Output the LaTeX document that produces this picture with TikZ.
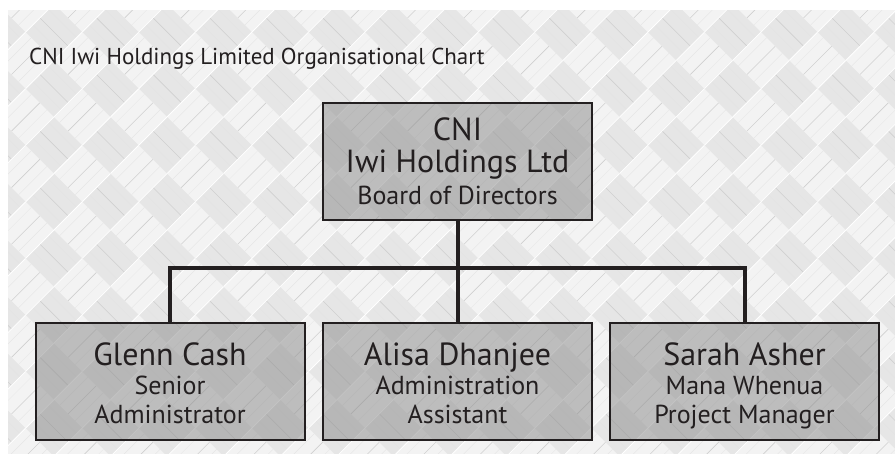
\documentclass[tikz,border=0pt]{standalone}
\usepackage{fontspec}
\setmainfont{PT Sans}
\definecolor{ink}{HTML}{231F20}
\definecolor{weaveA}{HTML}{F3F3F3}
\definecolor{weaveB}{HTML}{E6E6E6}
\definecolor{fiber}{HTML}{D0D0D0}
\tikzset{
  orgbox/.style={draw=ink, line width=2pt, fill=black!45, fill opacity=0.52,
    text opacity=1, minimum width=269pt, minimum height=117pt, inner sep=0pt},
  bigtxt/.style={anchor=base, text=ink, font=\fontsize{32}{35}\selectfont, inner sep=0pt,
    text height=22pt, text depth=5pt},
  smalltxt/.style={anchor=base, text=ink, font=\fontsize{26}{29}\selectfont, inner sep=0pt,
    text height=18pt, text depth=4pt},
  conn/.style={draw=ink, line width=4pt},
}
\begin{document}
\begin{tikzpicture}[x=1pt,y=-1pt]
\useasboundingbox (0,0) rectangle (895,454);
\fill[white] (0,0) rectangle (895,454);
% woven background
\begin{scope}
  \clip (8,11) rectangle (895,454);
  \fill[weaveA] (8,11) rectangle (895,454);
  \begin{scope}[shift={(450,230)}, rotate=45]
    \foreach \i in {-15,...,14}{
      \foreach \j in {-15,...,14}{
        \pgfmathtruncatemacro{\pq}{mod(\i+\j+60,2)}
        \ifnum\pq=0
          \fill[weaveA] (\i*40,\j*40) rectangle ++(40,40);
          \draw[fiber, line width=0.6pt] (\i*40,\j*40+20) -- ++(40,0);
          \draw[fiber!60, line width=0.3pt] (\i*40,\j*40+8) -- ++(40,0)
             (\i*40,\j*40+30) -- ++(40,0);
        \else
          \fill[weaveB] (\i*40,\j*40) rectangle ++(40,40);
          \draw[fiber, line width=0.6pt] (\i*40+20,\j*40) -- ++(0,40);
          \draw[fiber!60, line width=0.3pt] (\i*40+10,\j*40) -- ++(0,40)
             (\i*40+32,\j*40) -- ++(0,40);
        \fi
        \draw[white, line width=0.8pt] (\i*40,\j*40) -- ++(40,0);
      }
    }
  \end{scope}
\end{scope}
% title
\node[anchor=base west, text=ink, font=\fontsize{23}{27}\selectfont, inner sep=0pt] (title) at (29,65) {CNI Iwi Holdings Limited Organisational Chart};
% boxes
\node[orgbox] (top) at (457.5,162) {};
\node[orgbox] (glenn) at (170,381.5) {};
\node[orgbox] (alisa) at (457.5,381.5) {};
\node[orgbox] (sarah) at (744.5,381.5) {};
% connectors
\coordinate (junction) at (457.5,268);
\draw[conn] (top.south) -- (junction);
\draw[conn] (junction) -- (alisa.north);
\draw[conn] (glenn.north) |- (junction) -| (sarah.north);
% texts
\node[bigtxt] (t1) at (457.5,141) {CNI};
\node[bigtxt] (t2) at (457.5,173) {Iwi Holdings Ltd};
\node[smalltxt] (t3) at (457.5,205) {Board of Directors};
\node[bigtxt] (g1) at (170,366) {Glenn Cash};
\node[smalltxt] (g2) at (170,395) {Senior};
\node[smalltxt] (g3) at (170,424) {Administrator};
\node[bigtxt] (a1) at (457.5,366) {Alisa Dhanjee};
\node[smalltxt] (a2) at (457.5,395) {Administration};
\node[smalltxt] (a3) at (457.5,424) {Assistant};
\node[bigtxt] (s1) at (744.5,366) {Sarah Asher};
\node[smalltxt] (s2) at (744.5,395) {Mana Whenua};
\node[smalltxt] (s3) at (744.5,424) {Project Manager};
\end{tikzpicture}
\end{document}
